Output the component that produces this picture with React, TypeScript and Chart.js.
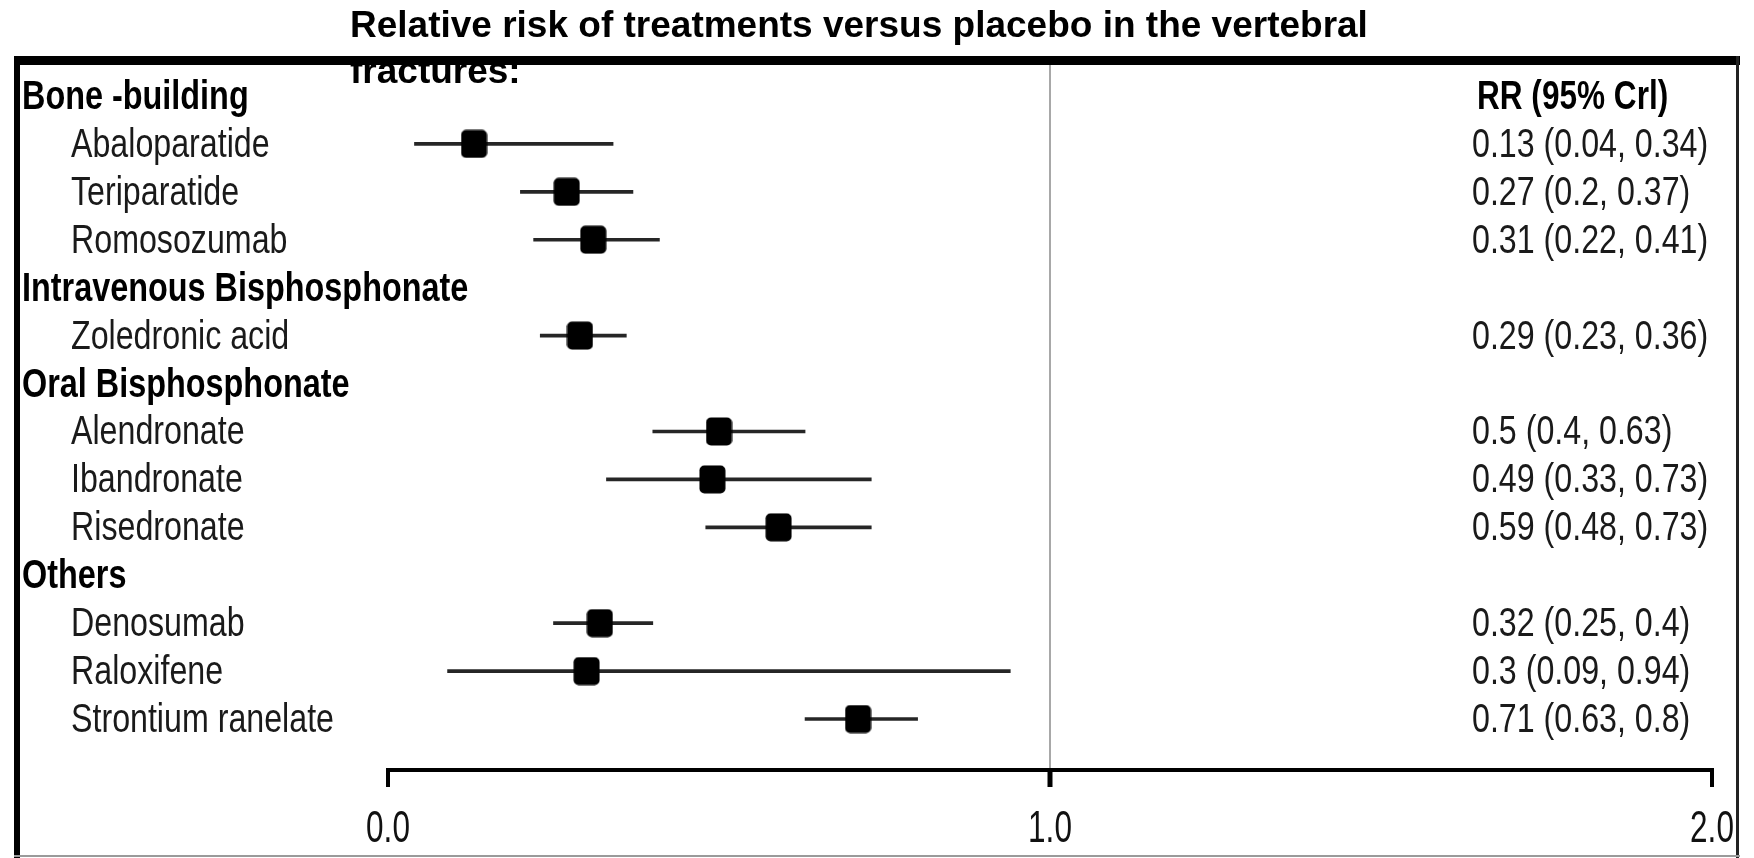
import React, { useEffect, useRef } from "react";
import { Chart, registerables } from "chart.js";

Chart.register(...registerables);

const rowLabels: string[] = [
  "Bone -building",
  "Abaloparatide",
  "Teriparatide",
  "Romosozumab",
  "Intravenous Bisphosphonate",
  "Zoledronic acid",
  "Oral Bisphosphonate",
  "Alendronate",
  "Ibandronate",
  "Risedronate",
  "Others",
  "Denosumab",
  "Raloxifene",
  "Strontium ranelate",
];
const isHeader: boolean[] = [true, false, false, false, true, false, true, false, false, false, true, false, false, false];
const rr: (number | null)[] = [null, 0.13, 0.27, 0.31, null, 0.29, null, 0.5, 0.49, 0.59, null, 0.32, 0.3, 0.71];
const lower: (number | null)[] = [null, 0.04, 0.2, 0.22, null, 0.23, null, 0.4, 0.33, 0.48, null, 0.25, 0.09, 0.63];
const upper: (number | null)[] = [null, 0.34, 0.37, 0.41, null, 0.36, null, 0.63, 0.73, 0.73, null, 0.4, 0.94, 0.8];
const columnHeader = "RR (95% Crl)";
const tickValues: number[] = [0, 1, 2];
const tickLabels: string[] = ["0.0", "1.0", "2.0"];
const titleLines: string[] = ["Relative risk of treatments versus placebo in the vertebral", "fractures:"];

const W = 1754;
const H = 858;
const FONT = "'Liberation Sans', Arial, Helvetica, sans-serif";

function condensedText(ctx: CanvasRenderingContext2D, text: string, x: number, y: number, sx: number, align: "left" | "center") {
  ctx.save();
  ctx.translate(x, y);
  ctx.scale(sx, 1);
  ctx.textAlign = align;
  ctx.fillText(text, 0, 0);
  ctx.restore();
}

export default function App() {
  const ref = useRef<HTMLCanvasElement | null>(null);

  useEffect(() => {
    if (!ref.current) return;
    const marker = document.createElement("canvas");
    marker.width = 27;
    marker.height = 29;
    const mg = marker.getContext("2d")!;
    mg.fillStyle = "#000";
    mg.beginPath();
    (mg as any).roundRect(0.5, 0.5, 26, 28, 5);
    mg.fill();

    const axisY = 770;
    const frameTop = 56;

    const decor = {
      id: "forestDecor",
      beforeDatasetsDraw(chart: any) {
        const ctx: CanvasRenderingContext2D = chart.ctx;
        const xs = chart.scales.x;
        ctx.save();
        const x1 = xs.getPixelForValue(1);
        ctx.strokeStyle = "#a8a8a8";
        ctx.lineWidth = 2;
        ctx.beginPath();
        ctx.moveTo(x1, frameTop + 9);
        ctx.lineTo(x1, axisY);
        ctx.stroke();
        ctx.restore();
      },
      afterDraw(chart: any) {
        const ctx: CanvasRenderingContext2D = chart.ctx;
        const xs = chart.scales.x;
        const ys = chart.scales.y;
        ctx.save();

        // axis
        const xa = xs.getPixelForValue(tickValues[0]);
        const xb = xs.getPixelForValue(tickValues[tickValues.length - 1]);
        ctx.strokeStyle = "#000";
        ctx.lineWidth = 4;
        ctx.lineJoin = "miter";
        ctx.beginPath();
        ctx.moveTo(xa, axisY + 17);
        ctx.lineTo(xa, axisY);
        ctx.lineTo(xb, axisY);
        ctx.lineTo(xb, axisY + 17);
        ctx.stroke();
        ctx.lineWidth = 5;
        tickValues.forEach((v, i) => {
          if (i === 0 || i === tickValues.length - 1) return;
          const px = xs.getPixelForValue(v);
          ctx.beginPath();
          ctx.moveTo(px, axisY);
          ctx.lineTo(px, axisY + 17);
          ctx.stroke();
        });
        ctx.fillStyle = "#111";
        ctx.font = `45px ${FONT}`;
        ctx.textBaseline = "alphabetic";
        tickValues.forEach((v, i) => {
          const px = xs.getPixelForValue(v);
          condensedText(ctx, tickLabels[i], px, 842, 0.7, "center");
        });

        // row labels and values
        rowLabels.forEach((lab, i) => {
          const py = ys.getPixelForValue(i);
          const base = py + 13;
          if (isHeader[i]) {
            ctx.font = `bold 41px ${FONT}`;
            ctx.fillStyle = "#000";
            condensedText(ctx, lab, 22, base, 0.79, "left");
          } else {
            ctx.font = `41px ${FONT}`;
            ctx.fillStyle = "#1a1a1a";
            condensedText(ctx, lab, 71, base, 0.785, "left");
          }
          if (i === 0) {
            ctx.font = `bold 41px ${FONT}`;
            ctx.fillStyle = "#000";
            condensedText(ctx, columnHeader, 1477, base, 0.77, "left");
          } else if (rr[i] !== null) {
            ctx.font = `41px ${FONT}`;
            ctx.fillStyle = "#1a1a1a";
            condensedText(ctx, `${rr[i]} (${lower[i]}, ${upper[i]})`, 1472, base, 0.785, "left");
          }
        });

        // title
        ctx.fillStyle = "#000";
        ctx.font = `bold 37px ${FONT}`;
        ctx.textAlign = "left";
        ctx.fillText(titleLines[0], 350, 37);
        ctx.fillText(titleLines[1], 350, 83);

        // frame
        ctx.fillStyle = "#000";
        ctx.fillRect(14, frameTop, 1726, 9);
        ctx.fillRect(14, frameTop, 6, H - frameTop);
        ctx.fillStyle = "#222";
        ctx.fillRect(1736, frameTop, 3, H - frameTop);
        ctx.fillStyle = "#9a9a9a";
        ctx.fillRect(14, H - 3, 1726, 2);
        ctx.restore();
      },
    };

    const chart = new Chart(ref.current, {
      type: "bar",
      data: {
        labels: rowLabels,
        datasets: [
          {
            type: "line",
            label: "RR",
            indexAxis: "y",
            data: rr as any,
            showLine: false,
            pointStyle: marker as any,
            pointRadius: 14,
            order: 1,
            clip: false,
          } as any,
          {
            type: "bar",
            label: "95% CrI",
            indexAxis: "y",
            data: lower.map((l, i) => (l === null ? null : [l, upper[i] as number])) as any,
            backgroundColor: "#262626",
            borderWidth: 0,
            barThickness: 3,
            order: 2,
          } as any,
        ],
      },
      options: {
        indexAxis: "y",
        responsive: false,
        animation: false,
        events: [],
        layout: { padding: { left: 388, right: 42, top: 72, bottom: 115 } },
        plugins: { legend: { display: false }, tooltip: { enabled: false }, title: { display: false } },
        scales: {
          x: { type: "linear", min: 0, max: 2, display: false },
          y: { type: "category", display: false, offset: true },
        },
      } as any,
      plugins: [decor],
    });
    return () => chart.destroy();
  }, []);

  return (
    <div style={{ position: "absolute", left: 0, top: 0, width: W, height: H, background: "#fff" }}>
      <canvas ref={ref} width={W} height={H} style={{ width: W, height: H, display: "block" }} />
    </div>
  );
}
